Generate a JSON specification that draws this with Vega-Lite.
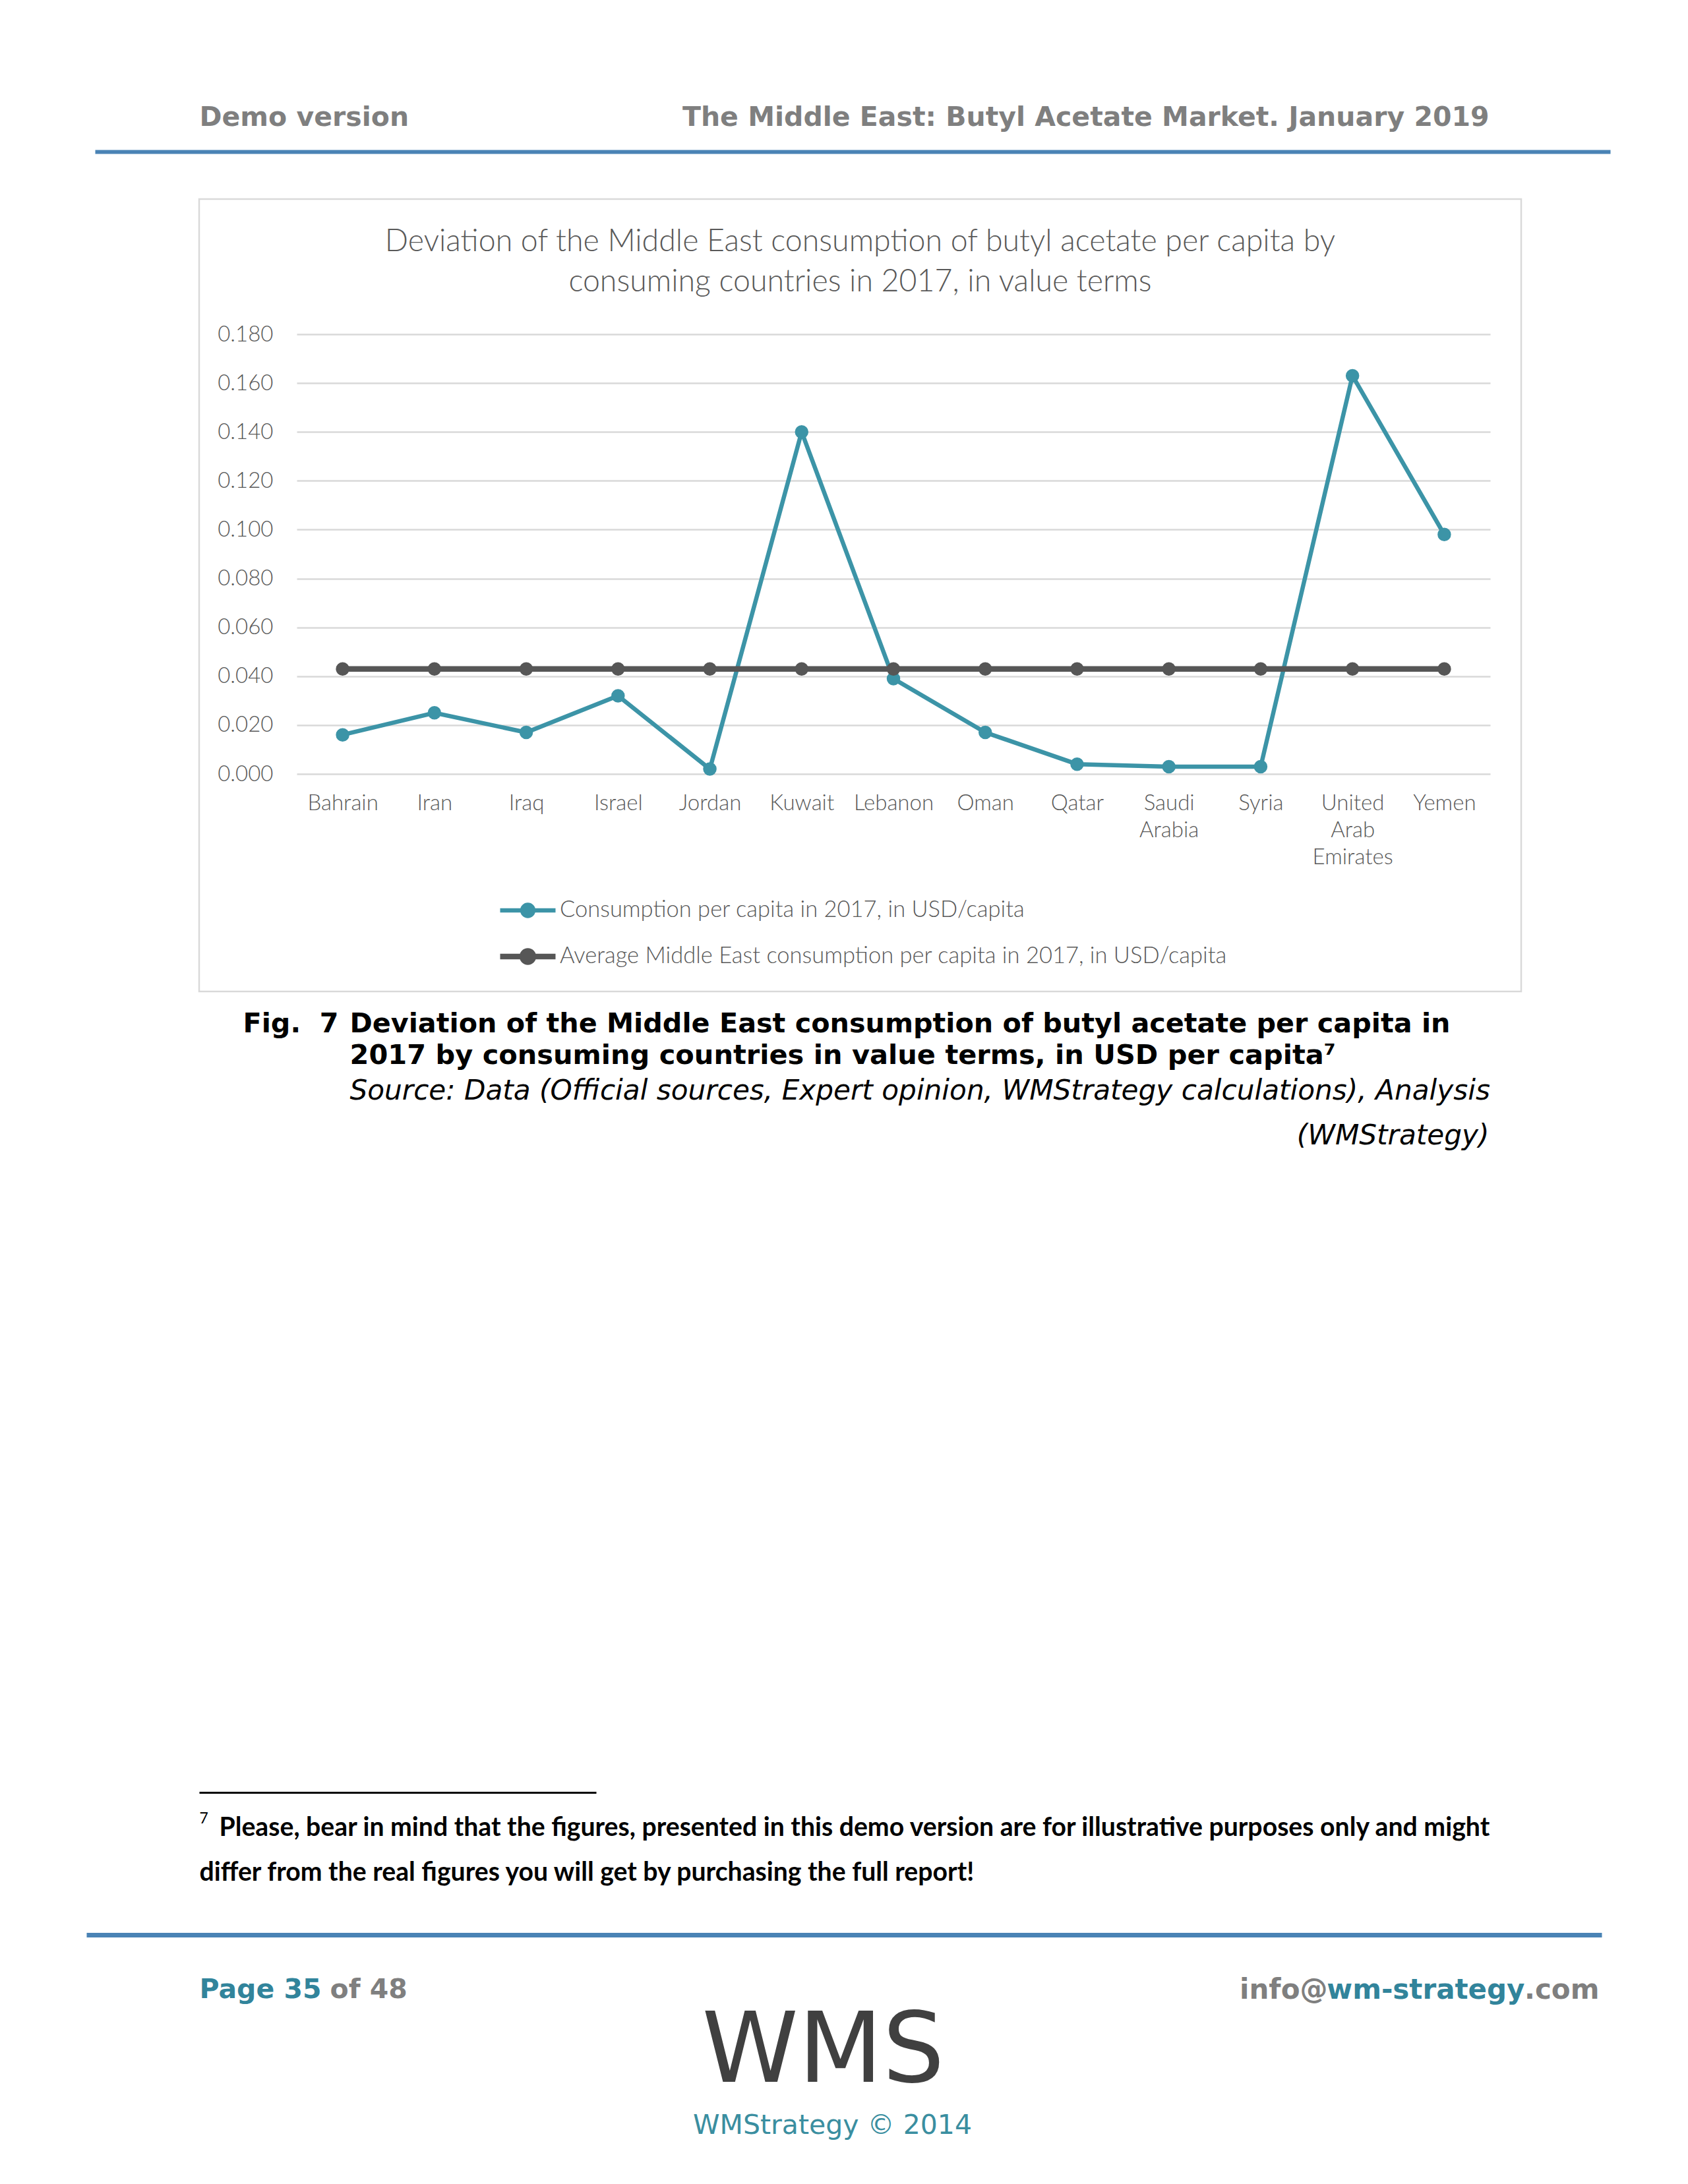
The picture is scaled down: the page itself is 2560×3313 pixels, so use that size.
{
  "$schema": "https://vega.github.io/schema/vega-lite/v6.json",
  "autosize": {"type": "none"},
  "padding": {"left": 302, "top": 302, "right": 253, "bottom": 1809},
  "background": "#ffffff",
  "width": 2005,
  "height": 1202,
  "config": {"view": {"stroke": "#D9D9D9", "strokeWidth": 2.5}},
  "resolve": {"scale": {"x": "independent", "y": "independent"}, "axis": {"x": "independent", "y": "independent"}},
  "layer": [
    {
      "data": {"values": [
        {"country": "Bahrain", "series": "Consumption per capita in 2017, in USD/capita", "value": 0.016},
        {"country": "Iran", "series": "Consumption per capita in 2017, in USD/capita", "value": 0.025},
        {"country": "Iraq", "series": "Consumption per capita in 2017, in USD/capita", "value": 0.017},
        {"country": "Israel", "series": "Consumption per capita in 2017, in USD/capita", "value": 0.032},
        {"country": "Jordan", "series": "Consumption per capita in 2017, in USD/capita", "value": 0.002},
        {"country": "Kuwait", "series": "Consumption per capita in 2017, in USD/capita", "value": 0.140},
        {"country": "Lebanon", "series": "Consumption per capita in 2017, in USD/capita", "value": 0.039},
        {"country": "Oman", "series": "Consumption per capita in 2017, in USD/capita", "value": 0.017},
        {"country": "Qatar", "series": "Consumption per capita in 2017, in USD/capita", "value": 0.004},
        {"country": "Saudi Arabia", "series": "Consumption per capita in 2017, in USD/capita", "value": 0.003},
        {"country": "Syria", "series": "Consumption per capita in 2017, in USD/capita", "value": 0.003},
        {"country": "United Arab Emirates", "series": "Consumption per capita in 2017, in USD/capita", "value": 0.163},
        {"country": "Yemen", "series": "Consumption per capita in 2017, in USD/capita", "value": 0.098},
        {"country": "Bahrain", "series": "Average Middle East consumption per capita in 2017, in USD/capita", "value": 0.043},
        {"country": "Iran", "series": "Average Middle East consumption per capita in 2017, in USD/capita", "value": 0.043},
        {"country": "Iraq", "series": "Average Middle East consumption per capita in 2017, in USD/capita", "value": 0.043},
        {"country": "Israel", "series": "Average Middle East consumption per capita in 2017, in USD/capita", "value": 0.043},
        {"country": "Jordan", "series": "Average Middle East consumption per capita in 2017, in USD/capita", "value": 0.043},
        {"country": "Kuwait", "series": "Average Middle East consumption per capita in 2017, in USD/capita", "value": 0.043},
        {"country": "Lebanon", "series": "Average Middle East consumption per capita in 2017, in USD/capita", "value": 0.043},
        {"country": "Oman", "series": "Average Middle East consumption per capita in 2017, in USD/capita", "value": 0.043},
        {"country": "Qatar", "series": "Average Middle East consumption per capita in 2017, in USD/capita", "value": 0.043},
        {"country": "Saudi Arabia", "series": "Average Middle East consumption per capita in 2017, in USD/capita", "value": 0.043},
        {"country": "Syria", "series": "Average Middle East consumption per capita in 2017, in USD/capita", "value": 0.043},
        {"country": "United Arab Emirates", "series": "Average Middle East consumption per capita in 2017, in USD/capita", "value": 0.043},
        {"country": "Yemen", "series": "Average Middle East consumption per capita in 2017, in USD/capita", "value": 0.043}
      ]},
      "mark": {"type": "line", "point": {"filled": true, "size": 420}},
      "encoding": {
        "x": {"field": "country", "type": "nominal", "sort": null,
          "scale": {"type": "point", "range": [148, 1958], "padding": 0.5},
          "axis": {"orient": "bottom", "offset": -330, "title": null, "domain": false, "ticks": false, "tickSize": 0, "grid": false,
            "labelPadding": 28, "labelAngle": 0, "labelExpr": "split(datum.label, ' ')", "labelLineHeight": 41,
            "labelFont": "Lato", "labelFontSize": 33, "labelFontWeight": 300, "labelColor": "#595959"}},
        "y": {"field": "value", "type": "quantitative",
          "scale": {"domain": [0, 0.18], "range": [872, 205], "nice": false, "zero": false},
          "axis": {"orient": "left", "offset": -148, "title": null, "domain": false, "ticks": false, "tickSize": 0,
            "grid": true, "gridColor": "#D9D9D9", "gridWidth": 2.5,
            "values": [0, 0.02, 0.04, 0.06, 0.08, 0.1, 0.12, 0.14, 0.16, 0.18], "format": ".3f",
            "labelPadding": 36, "labelFont": "Lato", "labelFontSize": 33, "labelFontWeight": 300, "labelColor": "#595959"}},
        "color": {"field": "series", "type": "nominal", "sort": null,
          "scale": {"domain": ["Consumption per capita in 2017, in USD/capita", "Average Middle East consumption per capita in 2017, in USD/capita"], "range": ["#3C94A7", "#565656"]},
          "legend": {"orient": "none", "legendX": 452, "legendY": 1059, "direction": "vertical", "title": null, "padding": 0,
            "symbolType": "M-1,0H1M-0.2,0A0.2,0.2,0,1,1,0.2,0A0.2,0.2,0,1,1,-0.2,0M-0.1,0A0.1,0.1,0,1,1,0.1,0A0.1,0.1,0,1,1,-0.1,0M-0.03,0A0.03,0.03,0,1,1,0.03,0A0.03,0.03,0,1,1,-0.03,0",
            "symbolSize": 7056, "symbolStrokeWidth": 7, "symbolOffset": 0, "clipHeight": 40, "rowPadding": 30,
            "labelOffset": 2, "labelLimit": 2000, "labelFont": "Lato", "labelFontSize": 34.5, "labelFontWeight": 300, "labelColor": "#595959"}},
        "strokeWidth": {"field": "series", "type": "nominal", "sort": null,
          "scale": {"domain": ["Consumption per capita in 2017, in USD/capita", "Average Middle East consumption per capita in 2017, in USD/capita"], "range": [6.5, 8.5]},
          "legend": null}
      }
    },
    {
      "data": {"values": [{"k": 0}]},
      "mark": {"type": "point", "opacity": 0},
      "encoding": {
        "x": {"field": "k", "type": "quantitative", "scale": {"domain": [0, 1], "range": [-158, 2140]},
          "axis": {"orient": "top", "offset": 72, "labels": false, "ticks": false, "grid": false,
            "domain": true, "domainColor": "#4A83B5", "domainWidth": 6, "domainCap": "butt",
            "title": "The Middle East: Butyl Acetate Market. January 2019", "titleX": 1956, "titleY": -51.5, "titleAngle": 0,
            "titleAlign": "right", "titleBaseline": "middle", "titleFont": "DejaVu Sans", "titleFontSize": 41, "titleFontWeight": "bold", "titleColor": "#7F7F7F"}},
        "y": {"field": "k", "type": "quantitative", "scale": {"domain": [0, 1]},
          "axis": {"orient": "left", "offset": 0, "labels": false, "ticks": false, "grid": false, "domain": false,
            "title": "Demo version", "titleX": 0, "titleY": -123.5, "titleAngle": 0,
            "titleAlign": "left", "titleBaseline": "middle", "titleFont": "DejaVu Sans", "titleFontSize": 41, "titleFontWeight": "bold", "titleColor": "#7F7F7F"}}
      }
    },
    {
      "data": {"values": [{"k": 0}]},
      "mark": {"type": "point", "opacity": 0},
      "encoding": {
        "x": {"field": "k", "type": "quantitative", "scale": {"domain": [0, 1]},
          "axis": {"orient": "top", "offset": 0, "labels": false, "ticks": false, "grid": false, "domain": false,
            "title": ["Deviation of the Middle East consumption of butyl acetate per capita by", "consuming countries in 2017, in value terms"],
            "titleX": 1002, "titleY": 64, "titleAngle": 0, "titleLineHeight": 61,
            "titleAlign": "center", "titleBaseline": "middle", "titleFont": "Lato", "titleFontSize": 46.5, "titleFontWeight": 300, "titleColor": "#595959"}},
        "y": {"field": "k", "type": "quantitative", "scale": {"domain": [0, 1]},
          "axis": {"orient": "left", "offset": 0, "labels": false, "ticks": false, "grid": false, "domain": false,
            "title": "Fig.\u00a0\u00a07",
            "titleX": 66, "titleY": 1251, "titleAngle": 0,
            "titleAlign": "left", "titleBaseline": "middle", "titleFont": "DejaVu Sans", "titleFontSize": 41.3, "titleFontWeight": "bold", "titleColor": "#000000"}}
      }
    },
    {
      "data": {"values": [{"k": 0}]},
      "mark": {"type": "point", "opacity": 0},
      "encoding": {
        "x": {"field": "k", "type": "quantitative", "scale": {"domain": [0, 1]},
          "axis": {"orient": "top", "offset": 0, "labels": false, "ticks": false, "grid": false, "domain": false,
            "title": "2017 by consuming countries in value terms, in USD per capita⁷",
            "titleX": 228, "titleY": 1299, "titleAngle": 0,
            "titleAlign": "left", "titleBaseline": "middle", "titleFont": "DejaVu Sans", "titleFontSize": 41.5, "titleFontWeight": "bold", "titleColor": "#000000"}},
        "y": {"field": "k", "type": "quantitative", "scale": {"domain": [0, 1]},
          "axis": {"orient": "left", "offset": 0, "labels": false, "ticks": false, "grid": false, "domain": false,
            "title": "Source: Data (Official sources, Expert opinion, WMStrategy calculations), Analysis",
            "titleX": 228, "titleY": 1352, "titleAngle": 0,
            "titleAlign": "left", "titleBaseline": "middle", "titleFont": "DejaVu Sans", "titleFontSize": 42.2, "titleFontWeight": "normal", "titleFontStyle": "italic", "titleColor": "#000000"}}
      }
    },
    {
      "data": {"values": [{"k": 0}]},
      "mark": {"type": "point", "opacity": 0},
      "encoding": {
        "x": {"field": "k", "type": "quantitative", "scale": {"domain": [0, 1]},
          "axis": {"orient": "top", "offset": 0, "labels": false, "ticks": false, "grid": false, "domain": false,
            "title": "(WMStrategy)",
            "titleX": 1956, "titleY": 1420, "titleAngle": 0,
            "titleAlign": "right", "titleBaseline": "middle", "titleFont": "DejaVu Sans", "titleFontSize": 42.2, "titleFontWeight": "normal", "titleFontStyle": "italic", "titleColor": "#000000"}},
        "y": {"field": "k", "type": "quantitative", "scale": {"domain": [0, 1]},
          "axis": {"orient": "left", "offset": 0, "labels": false, "ticks": false, "grid": false, "domain": false,
            "title": "7",
            "titleX": 0, "titleY": 2456, "titleAngle": 0,
            "titleAlign": "left", "titleBaseline": "middle", "titleFont": "Lato", "titleFontSize": 23, "titleFontWeight": "normal", "titleColor": "#000000"}}
      }
    },
    {
      "data": {"values": [{"k": 0}]},
      "mark": {"type": "point", "opacity": 0},
      "encoding": {
        "x": {"field": "k", "type": "quantitative", "scale": {"domain": [0, 1], "range": [0, 602]},
          "axis": {"orient": "top", "offset": -2417, "labels": false, "ticks": false, "grid": false,
            "domain": true, "domainColor": "#000000", "domainWidth": 3, "domainCap": "butt",
            "title": "Please, bear in mind that the figures, presented in this demo version are for illustrative purposes only and might",
            "titleX": 30, "titleY": 53, "titleAngle": 0,
            "titleAlign": "left", "titleBaseline": "middle", "titleFont": "Lato", "titleFontSize": 39.2, "titleFontWeight": "bold", "titleColor": "#000000"}},
        "y": {"field": "k", "type": "quantitative", "scale": {"domain": [0, 1]},
          "axis": {"orient": "left", "offset": 0, "labels": false, "ticks": false, "grid": false, "domain": false,
            "title": "differ from the real figures you will get by purchasing the full report!",
            "titleX": 0, "titleY": 2538, "titleAngle": 0,
            "titleAlign": "left", "titleBaseline": "middle", "titleFont": "Lato", "titleFontSize": 39.2, "titleFontWeight": "bold", "titleColor": "#000000"}}
      }
    },
    {
      "data": {"values": [{"k": 0}]},
      "mark": {"type": "point", "opacity": 0},
      "encoding": {
        "x": {"field": "k", "type": "quantitative", "scale": {"domain": [0, 1], "range": [-171, 2127]},
          "axis": {"orient": "top", "offset": -2633, "labels": false, "ticks": false, "grid": false,
            "domain": true, "domainColor": "#4A83B5", "domainWidth": 7, "domainCap": "butt",
            "title": "Page 35",
            "titleX": 0, "titleY": 83, "titleAngle": 0,
            "titleAlign": "left", "titleBaseline": "middle", "titleFont": "DejaVu Sans", "titleFontSize": 41, "titleFontWeight": "bold", "titleColor": "#31849B"}},
        "y": {"field": "k", "type": "quantitative", "scale": {"domain": [0, 1]},
          "axis": {"orient": "left", "offset": 0, "labels": false, "ticks": false, "grid": false, "domain": false,
            "title": "of 48",
            "titleX": 198, "titleY": 2716, "titleAngle": 0,
            "titleAlign": "left", "titleBaseline": "middle", "titleFont": "DejaVu Sans", "titleFontSize": 41, "titleFontWeight": "bold", "titleColor": "#7F7F7F"}}
      }
    },
    {
      "data": {"values": [{"k": 0}]},
      "mark": {"type": "point", "opacity": 0},
      "encoding": {
        "x": {"field": "k", "type": "quantitative", "scale": {"domain": [0, 1]},
          "axis": {"orient": "top", "offset": 0, "labels": false, "ticks": false, "grid": false, "domain": false,
            "title": "info@",
            "titleX": 1711, "titleY": 2716, "titleAngle": 0,
            "titleAlign": "right", "titleBaseline": "middle", "titleFont": "DejaVu Sans", "titleFontSize": 42, "titleFontWeight": "bold", "titleColor": "#7F7F7F"}},
        "y": {"field": "k", "type": "quantitative", "scale": {"domain": [0, 1]},
          "axis": {"orient": "left", "offset": 0, "labels": false, "ticks": false, "grid": false, "domain": false,
            "title": "wm-strategy",
            "titleX": 2010, "titleY": 2716, "titleAngle": 0,
            "titleAlign": "right", "titleBaseline": "middle", "titleFont": "DejaVu Sans", "titleFontSize": 42, "titleFontWeight": "bold", "titleColor": "#31849B"}}
      }
    },
    {
      "data": {"values": [{"k": 0}]},
      "mark": {"type": "point", "opacity": 0},
      "encoding": {
        "x": {"field": "k", "type": "quantitative", "scale": {"domain": [0, 1]},
          "axis": {"orient": "top", "offset": 0, "labels": false, "ticks": false, "grid": false, "domain": false,
            "title": ".com",
            "titleX": 2123, "titleY": 2716, "titleAngle": 0,
            "titleAlign": "right", "titleBaseline": "middle", "titleFont": "DejaVu Sans", "titleFontSize": 42, "titleFontWeight": "bold", "titleColor": "#7F7F7F"}},
        "y": {"field": "k", "type": "quantitative", "scale": {"domain": [0, 1]},
          "axis": {"orient": "left", "offset": 0, "labels": false, "ticks": false, "grid": false, "domain": false,
            "title": "WMStrategy © 2014",
            "titleX": 960, "titleY": 2922, "titleAngle": 0,
            "titleAlign": "center", "titleBaseline": "middle", "titleFont": "DejaVu Sans", "titleFontSize": 41, "titleFontWeight": "normal", "titleColor": "#3A8EA0"}}
      }
    },
    {
      "data": {"values": [{"k": 0}]},
      "mark": {"type": "point", "opacity": 0},
      "encoding": {
        "x": {"field": "k", "type": "quantitative", "scale": {"domain": [0, 1]},
          "axis": {"orient": "top", "offset": 0, "labels": false, "ticks": false, "grid": false, "domain": false,
            "title": "WMS",
            "titleX": 946, "titleY": 2855, "titleAngle": 0,
            "titleAlign": "center", "titleBaseline": "alphabetic", "titleFont": "DejaVu Sans", "titleFontSize": 148, "titleFontWeight": "normal", "titleColor": "#404040"}},
        "y": {"field": "k", "type": "quantitative", "scale": {"domain": [0, 1]},
          "axis": {"orient": "left", "offset": 0, "labels": false, "ticks": false, "grid": false, "domain": false,
            "title": "Deviation of the Middle East consumption of butyl acetate per capita in",
            "titleX": 228, "titleY": 1251, "titleAngle": 0,
            "titleAlign": "left", "titleBaseline": "middle", "titleFont": "DejaVu Sans", "titleFontSize": 41.3, "titleFontWeight": "bold", "titleColor": "#000000"}}
      }
    }
  ]
}
